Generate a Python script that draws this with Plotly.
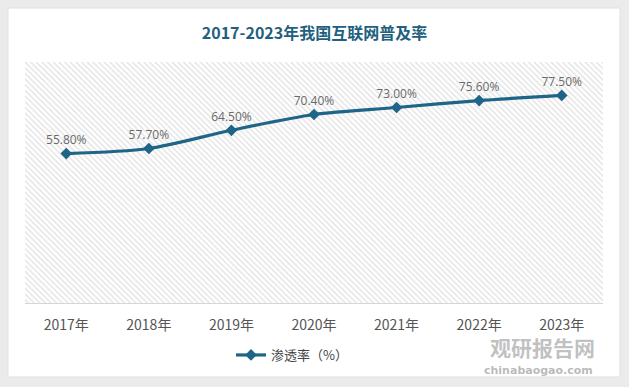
import plotly.graph_objects as go

years = ["2017年", "2018年", "2019年", "2020年", "2021年", "2022年", "2023年"]
rate = [55.8, 57.7, 64.5, 70.4, 73.0, 75.6, 77.5]
labels = [f"{v:.2f}%" for v in rate]

LINE = "#1f6588"
W, H = 629, 387
L, R, T, B = 25, 26, 62, 84
pw, ph = W - L - R, H - T - B

def px(x):
    return (x - L) / pw

def py(y):
    return (H - B - y) / ph

fig = go.Figure()

# hatched plot background (primary axes, drawn below the line)
fig.add_trace(go.Bar(
    x=[0.5], y=[1], width=[1],
    marker=dict(color="white", line=dict(width=0),
                pattern=dict(shape="\\", fgcolor="#c6c6c6", bgcolor="white", size=4, solidity=0.35)),
    showlegend=False, hoverinfo="skip",
))

fig.add_trace(go.Scatter(
    x=years, y=rate, mode="lines+markers+text", name="渗透率（%）",
    xaxis="x2", yaxis="y2",
    line=dict(color=LINE, width=3.2, shape="spline", smoothing=0.8),
    marker=dict(symbol="diamond", size=9, color=LINE),
    text=labels, textposition="top center",
    textfont=dict(family="Open Sans, Noto Sans CJK SC", size=12, color="#6a6a6a"),
))

fig.update_layout(
    width=W, height=H,
    paper_bgcolor="#ebebeb", plot_bgcolor="rgba(0,0,0,0)",
    margin=dict(l=L, r=R, t=T, b=B),
    bargap=0,
    title=dict(text="<b>2017-2023年我国互联网普及率</b>", x=0.5, xanchor="center", y=1 - 33 / H, yanchor="middle",
               font=dict(family="Noto Sans CJK SC", size=16, color="#1f5f80")),
    xaxis=dict(range=[0, 1], visible=False, fixedrange=True),
    yaxis=dict(range=[0, 1], visible=False, fixedrange=True),
    xaxis2=dict(type="category", overlaying="x", tickson="boundaries", showgrid=True, gridcolor="#dcdcdc",
                gridwidth=1, showline=True, linecolor="#d6d6d6", linewidth=1, ticks="",
                tickfont=dict(family="Noto Sans CJK SC", size=14, color="#555555"), ticklabelstandoff=9,
                range=[-0.5, 6.5]),
    yaxis2=dict(overlaying="y", range=[0, 90], showgrid=False, showticklabels=False, zeroline=False, showline=False),
    legend=dict(orientation="h", x=px(292), xanchor="center", y=py(355), yanchor="middle",
                font=dict(family="Noto Sans CJK SC", size=13, color="#444444"), bgcolor="rgba(0,0,0,0)"),
    shapes=[dict(type="rect", xref="paper", yref="paper", x0=px(8), x1=px(620), y0=py(377), y1=py(8),
                 fillcolor="white", line=dict(color="#e0e0e0", width=1), layer="below")],
    annotations=[
        dict(text="<b>观研报告网</b>", xref="paper", yref="paper", x=px(597), y=py(347), xanchor="right",
             yanchor="middle", showarrow=False,
             font=dict(family="Noto Sans CJK SC", size=21, color="rgba(140,140,140,0.55)")),
        dict(text="<b>chinabaogao.com</b>", xref="paper", yref="paper", x=px(595), y=py(370), xanchor="right",
             yanchor="middle", showarrow=False,
             font=dict(family="DejaVu Sans", size=11, color="rgba(140,140,140,0.6)")),
    ],
)

fig.write_html("out.html", config={"displayModeBar": False},
               post_script="document.body.style.margin='0';")
